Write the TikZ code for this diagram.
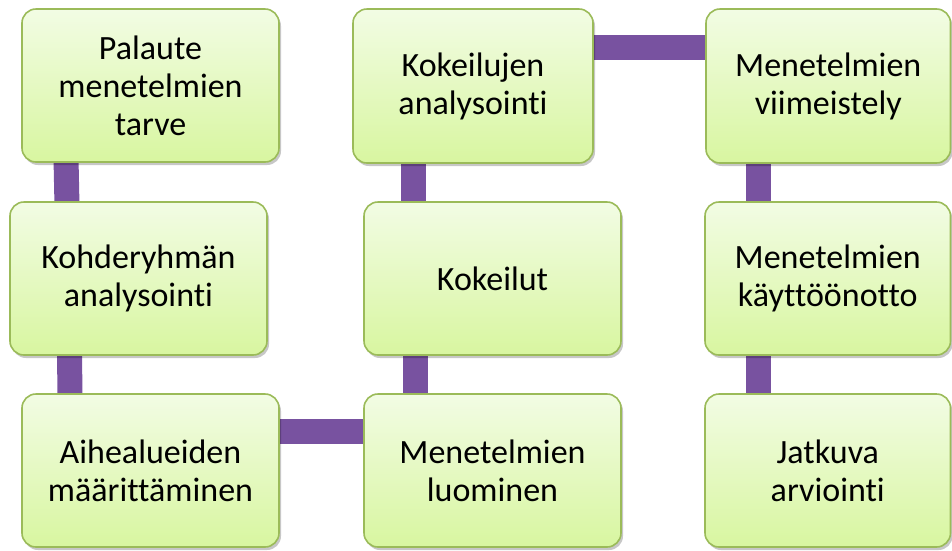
\documentclass[tikz,border=0pt]{standalone}
\usepackage{fontspec}
\setmainfont{Carlito}[Ligatures=NoCommon]
\usetikzlibrary{shadows,calc,backgrounds}
\definecolor{boxtop}{RGB}{242,252,228}
\definecolor{boxbot}{RGB}{216,246,160}
\definecolor{boxline}{RGB}{155,187,89}
\definecolor{conncol}{RGB}{120,82,160}
\tikzset{
  stepbox/.style={draw=boxline, line width=1.6pt, rounded corners=14pt,
    top color=boxtop, bottom color=boxbot, align=center, inner sep=0pt,
    font=\fontsize{34}{38}\selectfont,
    drop shadow={shadow xshift=2pt, shadow yshift=-3pt, opacity=0.22, fill=black}},
  link/.style={draw=conncol, line width=25pt}
}
\begin{document}
\begin{tikzpicture}[x=1pt,y=-1pt]
\useasboundingbox (0,0) rectangle (952,550);
% boxes
\node[stepbox, minimum width=257pt, minimum height=153pt] (A) at (150.5,85.5) {Palaute\\menetelmien\\tarve};
\node[stepbox, minimum width=240pt, minimum height=154pt] (B) at (473,86) {Kokeilujen\\analysointi};
\node[stepbox, minimum width=244.5pt, minimum height=154pt] (C) at (828.25,86) {Menetelmien\\viimeistely};
\node[stepbox, minimum width=257pt, minimum height=153pt] (D) at (138.5,278.5) {Kohderyhmän\\analysointi};
\node[stepbox, minimum width=257pt, minimum height=153pt] (E) at (492.5,278.5) {Kokeilut};
\node[stepbox, minimum width=245.5pt, minimum height=153pt] (F) at (827.75,278.5) {Menetelmien\\käyttöönotto};
\node[stepbox, minimum width=257pt, minimum height=153pt] (G) at (150.5,470.5) {Aihealueiden\\määrittäminen};
\node[stepbox, minimum width=257pt, minimum height=153pt] (H) at (492.5,470.5) {Menetelmien\\luominen};
\node[stepbox, minimum width=245.5pt, minimum height=153pt] (I) at (827.75,470.5) {Jatkuva\\arviointi};
% connectors
\begin{scope}[on background layer]
\fill[white] (0,0) rectangle (952,550);
\draw[link] ($(A.south)+(-84.5,-5)$) -- ($(D.north)+(-71.5,5)$);
\draw[link] ($(D.south)+(-69,-5)$) -- ($(G.north)+(-80.5,5)$);
\draw[link] ($(G.east)+(-5,-39)$) -- ($(H.west)+(5,-39)$);
\draw[link] ($(H.north)+(-77.5,5)$) -- ($(E.south)+(-77.5,-5)$);
\draw[link] ($(E.north)+(-79.5,5)$) -- ($(B.south)+(-60,-5)$);
\draw[link] ($(B.east)+(-5,-39)$) -- ($(C.west)+(5,-39)$);
\draw[link] ($(C.south)+(-70.25,-5)$) -- ($(F.north)+(-69.75,5)$);
\draw[link] ($(F.south)+(-69.75,-5)$) -- ($(I.north)+(-69.75,5)$);
\end{scope}
\end{tikzpicture}
\end{document}
